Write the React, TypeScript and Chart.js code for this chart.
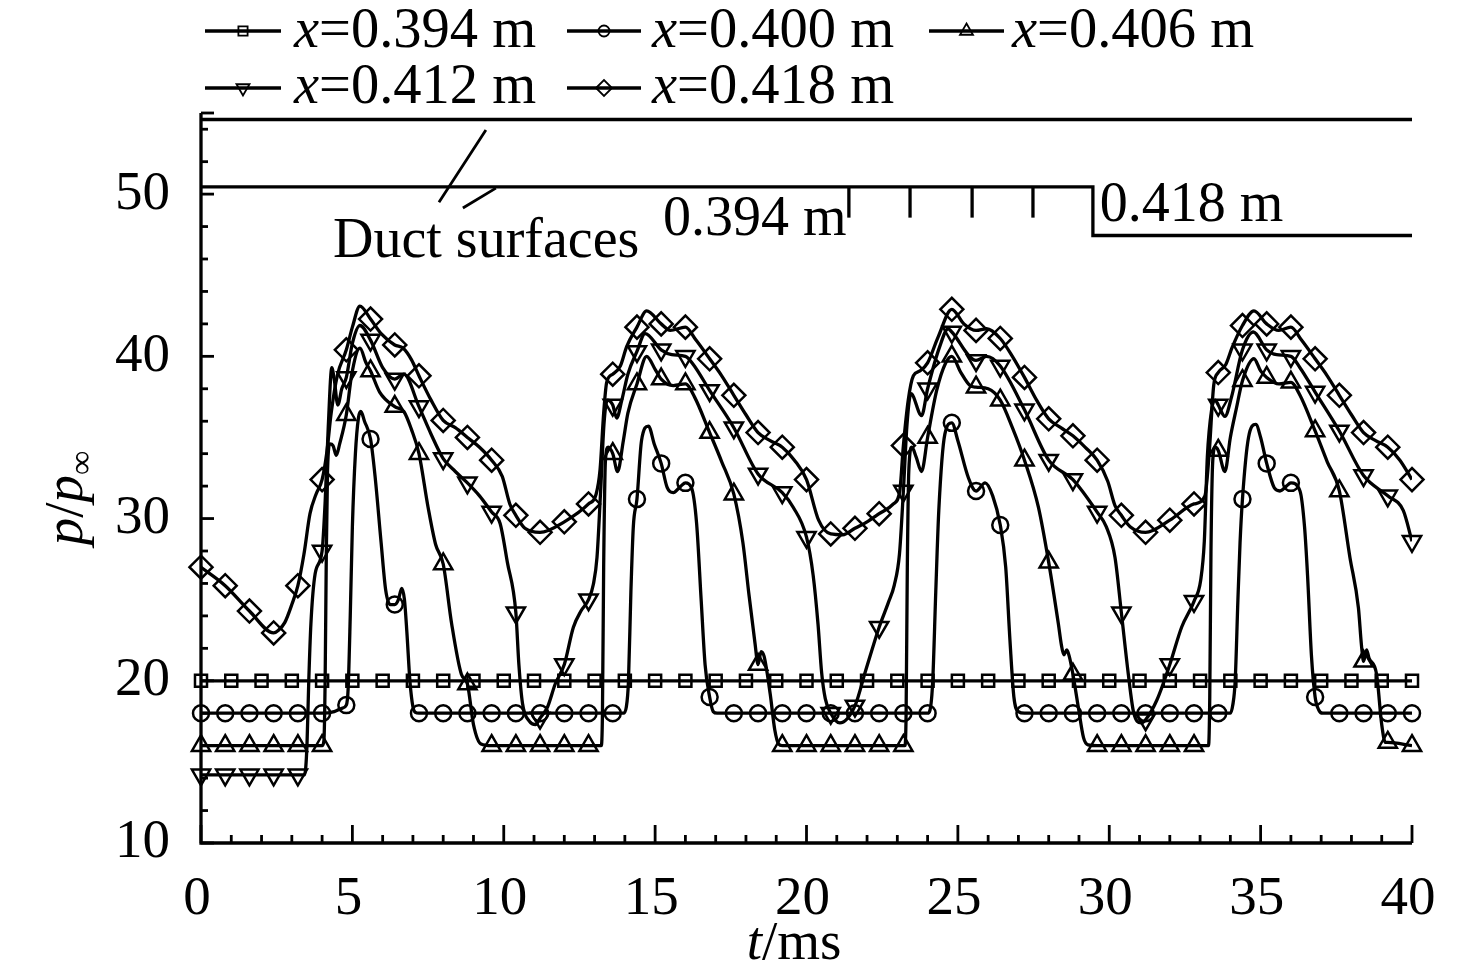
import React, { useEffect, useRef } from 'react';
import { Chart, registerables } from 'chart.js';

Chart.register(...registerables);

const FONT = "'Liberation Serif', 'Times New Roman', serif";

// ---------- axes ----------
const X_TICKS = [0, 5, 10, 15, 20, 25, 30, 35, 40];
const Y_TICKS = [10, 20, 30, 40, 50];

// ---------- marker sampling times (ms) ----------
const MARKER_T = [0, 0.8, 1.6, 2.4, 3.2, 4, 4.8, 5.6, 6.4, 7.2, 8, 8.8, 9.6, 10.4, 11.2, 12, 12.8, 13.6, 14.4, 15.2, 16, 16.8, 17.6, 18.4, 19.2, 20, 20.8, 21.6, 22.4, 23.2, 24, 24.8, 25.6, 26.4, 27.2, 28, 28.8, 29.6, 30.4, 31.2, 32, 32.8, 33.6, 34.4, 35.2, 36, 36.8, 37.6, 38.4, 39.2, 40];
const SQUARE_T = [0, 1, 2, 3, 4, 5, 6, 7, 8, 9, 10, 11, 12, 13, 14, 15, 16, 17, 18, 19, 20, 21, 22, 23, 24, 25, 26, 27, 28, 29, 30, 31, 32, 33, 34, 35, 36, 37, 38, 39, 40];

// ---------- series names ----------
const SERIES_X = ['0.394', '0.400', '0.406', '0.412', '0.418'];

// ---------- x = 0.394 m (squares) ----------
const S394_MARK = [20, 20, 20, 20, 20, 20, 20, 20, 20, 20, 20, 20, 20, 20, 20, 20, 20, 20, 20, 20, 20, 20, 20, 20, 20, 20, 20, 20, 20, 20, 20, 20, 20, 20, 20, 20, 20, 20, 20, 20, 20];
const S394_EXTRA: number[][] = [];

// ---------- x = 0.400 m (circles) ----------
const S400_MARK = [
  18, 18, 18, 18, 18, 18, 18.5, 34.9, 24.7, 18, 18, 18, 18,
  18, 18, 18, 18, 18, 31.2, 33.4, 32.2, 19.0, 18, 18, 18,
  18, 18, 18, 18, 18, 18, 35.9, 31.7, 29.6, 18, 18, 18, 18,
  18, 18, 18, 18, 18, 31.2, 33.4, 32.2, 19.0, 18, 18, 18, 18,
];
const S400_EXTRA = [
  [4.4, 18.1], [4.65, 18.3], [4.86, 19.5], [4.93, 24], [5.0, 29.5], [5.1, 34], [5.2, 36.2], [5.28, 36.6], [5.4, 36.0],
  [5.75, 32.6], [5.95, 28.5], [6.1, 25.6], [6.25, 24.7], [6.52, 25.0], [6.63, 25.7], [6.72, 25.0], [6.8, 23], [6.9, 20], [7.0, 18.4], [7.08, 18.05],
  [13.95, 18], [14.05, 18.4], [14.12, 20], [14.2, 25.5], [14.28, 29.5], [14.55, 34.8], [14.78, 35.7], [14.97, 34.6],
  [15.4, 31.9], [15.6, 31.6], [15.85, 32.0], [16.2, 31.9], [16.37, 29.7], [16.52, 25], [16.65, 21], [16.92, 18.1], [17.05, 18],
  [24.08, 18.2], [24.17, 20], [24.27, 25.5], [24.37, 30.5], [24.57, 35.2], [25.0, 34.8], [25.35, 32.5],
  [25.9, 32.2], [26.15, 31.4], [26.58, 27], [26.72, 22.5], [26.85, 19], [27.0, 18.1],
  [34.0, 18], [34.08, 18.5], [34.16, 20], [34.25, 25], [34.32, 28.5], [34.6, 35.0], [34.84, 35.8], [35.0, 35.0],
  [35.45, 31.9], [35.64, 31.7], [35.85, 32.0], [36.3, 31.7], [36.45, 29.5], [36.55, 26.5], [36.68, 21.5], [36.92, 18.2], [37.05, 18],
];

// ---------- x = 0.406 m (up triangles) ----------
const S406_MARK = [
  16, 16, 16, 16, 16, 16, 36.4, 39.1, 36.9, 34.0, 27.2, 19.8, 16,
  16, 16, 16, 16, 34.0, 38.3, 38.6, 38.3, 35.3, 31.5, 21.0, 16,
  16, 16, 16, 16, 16, 35.0, 40.0, 38.1, 37.3, 33.6, 27.3, 20.4, 16,
  16, 16, 16, 16, 34.2, 38.5, 38.7, 38.4, 35.4, 31.7, 21.2, 16.2, 16,
];
const S406_EXTRA = [
  [4.06, 16.3], [4.1, 20], [4.14, 28], [4.18, 33], [4.26, 34.6], [4.36, 34.5], [4.47, 33.9], [4.58, 34.6],
  [4.98, 38.9], [5.25, 40.5], [5.45, 39.6], [5.9, 37.8], [6.7, 36.6], [6.95, 35.5], [7.5, 30.7], [7.75, 28.4],
  [8.28, 23.5], [8.6, 20.4], [9.0, 17.3], [9.25, 16.1],
  [13.22, 16], [13.26, 18], [13.3, 27], [13.36, 33.6], [13.45, 34.4], [13.76, 32.9], [13.95, 34.8], [14.1, 36.5],
  [14.72, 40.0], [15.0, 39.2], [15.6, 38.2], [16.3, 37.5], [17.2, 33.5], [17.9, 28.5], [18.1, 25.3], [18.3, 22.3],
  [18.5, 21.8], [18.6, 21.5], [18.8, 19.2], [18.95, 17], [19.08, 16.1],
  [23.25, 16], [23.29, 18], [23.33, 27], [23.38, 33], [23.48, 34.4], [23.62, 33.8], [23.8, 32.9], [24.3, 37.9],
  [24.6, 39.6], [25.1, 39.0], [25.4, 38.2], [26.0, 38.0], [26.8, 35.6], [27.66, 30.7], [28.32, 23.5], [28.42, 22.2],
  [28.5, 21.6], [28.6, 21.9], [28.68, 21.5], [28.98, 18.35], [29.15, 16.5], [29.3, 16.05],
  [33.28, 16], [33.32, 19], [33.36, 28], [33.42, 33.6], [33.5, 34.4], [33.82, 32.9], [34.0, 35.0], [34.2, 36.8],
  [34.78, 39.85], [35.0, 39.1], [35.6, 38.3], [36.3, 37.6], [37.2, 33.5], [37.95, 27.6], [38.23, 24.5], [38.33, 22.2],
  [38.5, 21.9], [38.58, 21.4], [38.83, 20.4], [39.0, 17.3], [39.12, 16.2],
];

// ---------- x = 0.412 m (down triangles) ----------
const S412_MARK = [
  14.2, 14.2, 14.2, 14.2, 14.2, 28.0, 38.7, 41.0, 38.6, 36.9, 33.7, 32.2, 30.4,
  24.2, 17.7, 21.0, 25.0, 37.0, 40.3, 40.4, 40.0, 37.9, 35.6, 32.75, 31.6,
  28.85, 18.0, 18.45, 23.3, 31.7, 38.0, 41.5, 39.75, 39.4, 36.7, 33.6, 32.4, 30.4,
  24.2, 17.6, 21.0, 24.9, 37.0, 40.4, 40.4, 40.0, 37.8, 35.4, 32.65, 31.4, 28.6,
];
const S412_EXTRA = [
  [3.42, 14.2], [3.5, 16], [3.56, 20], [3.63, 23.5], [3.77, 26.6], [4.1, 31], [4.2, 35.5], [4.32, 39.3], [4.4, 38.6],
  [4.52, 37.0], [4.65, 38.0], [5.0, 40.8], [5.25, 41.9], [6.0, 39.3], [6.7, 38.9], [7.6, 35.2], [8.4, 32.9], [9.2, 31.4],
  [9.88, 29.7], [10.12, 27.3], [10.5, 21], [10.62, 18.6], [10.85, 17.5], [11.05, 17.3], [11.45, 18.4], [11.7, 19.8],
  [12.3, 23.3], [12.55, 24.3], [12.96, 25.95], [13.08, 27.6], [13.2, 31.7], [13.31, 35.8], [13.42, 37.3], [13.73, 36.2],
  [13.9, 37.3], [14.1, 38.9], [14.67, 41.4], [15.55, 40.1], [16.26, 39.5], [19.56, 30.7],
  [20.22, 26.5], [20.38, 23.5], [20.5, 20.5], [20.62, 18.9], [21.1, 17.4], [21.95, 20.6], [22.7, 24.8], [22.9, 25.9],
  [23.07, 27.8], [23.32, 35.8], [23.45, 37.7], [23.8, 36.35], [24.4, 40.6], [24.68, 41.7], [25.95, 40.0], [29.9, 29.5],
  [30.19, 27.6], [30.63, 20.4], [30.8, 18.1], [31.05, 17.4], [31.57, 18.8], [32.39, 23.3], [33.02, 26.2], [33.14, 28.6],
  [33.24, 33.8], [33.38, 36.7], [33.5, 37.3], [33.82, 36.3], [34.04, 37.5], [34.76, 41.5], [35.53, 40.1], [36.3, 39.3],
  [39.71, 30.5],
];

// ---------- x = 0.418 m (diamonds) ----------
const S418_MARK = [
  27.0, 25.86, 24.3, 22.95, 25.86, 32.4, 40.4, 42.3, 40.7, 38.8, 36.05, 35.0, 33.6,
  30.2, 29.15, 29.8, 30.9, 38.9, 41.8, 42.0, 41.8, 39.85, 37.6, 35.3, 34.4,
  32.4, 29.05, 29.4, 30.3, 34.5, 39.6, 42.9, 41.6, 41.1, 38.7, 36.15, 35.1, 33.6,
  30.2, 29.15, 29.9, 30.9, 39.0, 41.9, 42.0, 41.8, 39.85, 37.6, 35.3, 34.4, 32.4,
];
const S418_EXTRA = [
  [2.55, 23.1], [2.77, 23.6], [3.0, 24.7], [3.4, 27.8], [3.6, 30.3], [3.8, 31.5], [4.15, 34.0], [4.3, 36.5], [4.5, 38.8],
  [5.0, 41.8], [5.25, 43.1], [5.95, 41.4], [6.68, 40.5], [6.95, 39.8], [7.6, 37.3], [8.4, 35.6], [9.2, 34.4],
  [9.95, 32.6], [10.2, 30.9], [10.7, 29.4], [13.05, 31.5], [13.18, 33], [13.3, 36.5], [13.4, 38.4], [13.85, 39.4],
  [14.06, 40.6], [14.72, 42.8], [15.5, 41.6], [16.35, 41.0], [17.2, 38.8], [18.0, 36.4], [18.8, 34.8], [19.6, 33.6],
  [20.4, 29.9], [21.2, 29.0], [22.0, 29.8], [22.87, 30.9], [23.08, 31.7], [23.36, 37.3], [23.53, 38.8], [23.75, 39.1],
  [24.35, 41.2], [25.2, 42.0], [25.95, 41.7], [26.8, 40.0], [27.6, 37.3], [28.4, 35.6], [29.2, 34.4], [29.95, 32.3],
  [30.19, 30.8], [30.69, 29.5], [33.16, 31.4], [33.3, 34], [33.45, 38.2], [33.85, 39.5], [34.05, 40.5], [34.78, 42.8],
  [35.6, 41.6], [36.35, 41.0], [37.2, 38.8], [38.0, 36.4], [38.8, 34.8], [39.6, 33.6],
];

// ---------- duct-surface annotation (data coordinates) ----------
const DUCT_TOP = 54.6;
const DUCT_WALL = 50.45;
const DUCT_WALL_LOW = 47.45;
const DUCT_STEP_T = 29.46;
const DUCT_TICK_T = [21.4, 23.42, 25.47, 27.48];
const DUCT_TICK_END = 48.55;

type Style = 'rect' | 'circle' | 'triangle' | 'triangleDown' | 'rectRot';

const SERIES: { t: number[]; mark: number[]; extra: number[][]; style: Style; r: number }[] = [
  { t: SQUARE_T, mark: S394_MARK, extra: S394_EXTRA, style: 'rect', r: 8.5 },
  { t: MARKER_T, mark: S400_MARK, extra: S400_EXTRA, style: 'circle', r: 8 },
  { t: MARKER_T, mark: S406_MARK, extra: S406_EXTRA, style: 'triangle', r: 10.5 },
  { t: MARKER_T, mark: S412_MARK, extra: S412_EXTRA, style: 'triangleDown', r: 10.5 },
  { t: MARKER_T, mark: S418_MARK, extra: S418_EXTRA, style: 'rectRot', r: 11.5 },
];

function drawMarker(ctx: CanvasRenderingContext2D, style: Style, x: number, y: number, r: number) {
  ctx.beginPath();
  if (style === 'rect') {
    const s = r * Math.SQRT1_2;
    ctx.rect(x - s, y - s, 2 * s, 2 * s);
  } else if (style === 'circle') {
    ctx.arc(x, y, r, 0, Math.PI * 2);
  } else if (style === 'triangle' || style === 'triangleDown') {
    const rot = style === 'triangle' ? 0 : Math.PI;
    for (let i = 0; i < 3; i++) {
      const a = rot + (i * 2 * Math.PI) / 3;
      const px = x + Math.sin(a) * r;
      const py = y - Math.cos(a) * r;
      if (i === 0) ctx.moveTo(px, py);
      else ctx.lineTo(px, py);
    }
    ctx.closePath();
  } else {
    ctx.moveTo(x - r, y);
    ctx.lineTo(x, y - r);
    ctx.lineTo(x + r, y);
    ctx.lineTo(x, y + r);
    ctx.closePath();
  }
  ctx.stroke();
}

const overlayPlugin = {
  id: 'overlay',
  afterDraw(chart: any) {
    const ctx: CanvasRenderingContext2D = chart.ctx;
    const xs = chart.scales.x;
    const ys = chart.scales.y;
    const X = (v: number) => xs.getPixelForValue(v);
    const Y = (v: number) => ys.getPixelForValue(v);
    ctx.save();
    ctx.strokeStyle = '#000';
    ctx.fillStyle = '#000';
    ctx.lineJoin = 'miter';

    // axes
    ctx.lineWidth = 3.3;
    ctx.beginPath();
    ctx.moveTo(X(0), Y(55));
    ctx.lineTo(X(0), Y(10));
    ctx.lineTo(X(40), Y(10));
    ctx.stroke();

    // x ticks (inward)
    ctx.lineWidth = 2.8;
    for (let t = 0; t <= 40; t += 1) {
      const len = t % 5 === 0 ? 18 : 8;
      ctx.beginPath();
      ctx.moveTo(X(t), Y(10));
      ctx.lineTo(X(t), Y(10) - len);
      ctx.stroke();
    }
    // y ticks (inward)
    const yTickVals: number[] = [];
    for (let v = 10; v <= 54; v += 2) yTickVals.push(v);
    yTickVals.push(55);
    for (const v of yTickVals) {
      const len = v % 10 === 0 || v === 55 ? 13 : 7;
      ctx.beginPath();
      ctx.moveTo(X(0), Y(v));
      ctx.lineTo(X(0) + len, Y(v));
      ctx.stroke();
    }

    // duct surfaces
    ctx.lineWidth = 3.3;
    ctx.beginPath();
    ctx.moveTo(X(0), Y(DUCT_TOP));
    ctx.lineTo(X(40), Y(DUCT_TOP));
    ctx.stroke();
    ctx.beginPath();
    ctx.moveTo(X(0), Y(DUCT_WALL));
    ctx.lineTo(X(DUCT_STEP_T), Y(DUCT_WALL));
    ctx.lineTo(X(DUCT_STEP_T), Y(DUCT_WALL_LOW));
    ctx.lineTo(X(40), Y(DUCT_WALL_LOW));
    ctx.stroke();
    for (const t of DUCT_TICK_T) {
      ctx.beginPath();
      ctx.moveTo(X(t), Y(DUCT_WALL));
      ctx.lineTo(X(t), Y(DUCT_TICK_END));
      ctx.stroke();
    }
    ctx.lineWidth = 2.8;
    ctx.beginPath();
    ctx.moveTo(X(7.86), Y(49.5));
    ctx.lineTo(X(9.41), Y(53.95));
    ctx.moveTo(X(8.65), Y(49.14));
    ctx.lineTo(X(9.74), Y(50.37));
    ctx.stroke();

    ctx.font = `56px ${FONT}`;
    ctx.textAlign = 'left';
    ctx.textBaseline = 'alphabetic';
    ctx.fillText('Duct surfaces', X(4.36), Y(46.1));
    ctx.fillText('0.394 m', X(15.26), Y(47.47));
    ctx.fillText('0.418 m', X(29.69), Y(48.33));

    // legend
    const rowsLine = [31, 88];
    const rowsBase = [47, 103];
    const items = [
      { row: 0, x0: 205, x1: 281, tx: 294 },
      { row: 0, x0: 567, x1: 641, tx: 652 },
      { row: 0, x0: 929, x1: 1004, tx: 1012 },
      { row: 1, x0: 205, x1: 281, tx: 294 },
      { row: 1, x0: 567, x1: 641, tx: 652 },
    ];
    const legendR: Record<Style, number> = { rect: 6.5, circle: 5.5, triangle: 7.5, triangleDown: 7.5, rectRot: 8 };
    items.forEach((it, i) => {
      const ly = rowsLine[it.row];
      ctx.lineWidth = 3.3;
      ctx.beginPath();
      ctx.moveTo(it.x0, ly);
      ctx.lineTo(it.x1, ly);
      ctx.stroke();
      ctx.lineWidth = 1.8;
      const st = SERIES[i].style;
      const cx = (it.x0 + it.x1) / 2;
      drawMarker(ctx, st, cx, ly, legendR[st]);
      ctx.font = `italic 56.5px ${FONT}`;
      ctx.fillText('x', it.tx, rowsBase[it.row]);
      const wx = ctx.measureText('x').width;
      ctx.font = `56.5px ${FONT}`;
      ctx.fillText(`=${SERIES_X[i]} m`, it.tx + wx, rowsBase[it.row]);
    });

    // x-axis title  t/ms
    ctx.font = `italic 55px ${FONT}`;
    const wt = ctx.measureText('t').width;
    ctx.font = `55px ${FONT}`;
    const wms = ctx.measureText('/ms').width;
    const tx0 = 794 - (wt + wms) / 2;
    ctx.font = `italic 55px ${FONT}`;
    ctx.fillText('t', tx0, 959);
    ctx.font = `55px ${FONT}`;
    ctx.fillText('/ms', tx0 + wt, 959);

    // y-axis title  p/p∞
    ctx.save();
    ctx.translate(82, 498);
    ctx.rotate(-Math.PI / 2);
    ctx.font = `italic 55px ${FONT}`;
    const wp = ctx.measureText('p').width;
    ctx.font = `55px ${FONT}`;
    const ws = ctx.measureText('/').width;
    ctx.font = `34px ${FONT}`;
    const winf = ctx.measureText('\u221E').width;
    const total = wp * 2 + ws + winf;
    let cx = -total / 2;
    ctx.font = `italic 55px ${FONT}`;
    ctx.fillText('p', cx, 0);
    cx += wp;
    ctx.font = `55px ${FONT}`;
    ctx.fillText('/', cx, 0);
    cx += ws;
    ctx.font = `italic 55px ${FONT}`;
    ctx.fillText('p', cx, 0);
    cx += wp;
    ctx.font = `34px ${FONT}`;
    ctx.fillText('\u221E', cx, 10);
    ctx.restore();

    ctx.restore();
  },
};

export default function App() {
  const ref = useRef<HTMLCanvasElement | null>(null);

  useEffect(() => {
    const canvas = ref.current;
    if (!canvas) return;
    const datasets: any[] = [];
    SERIES.forEach((s) => {
      const pts = [
        ...s.mark.map((v, i) => ({ x: s.t[i], y: v })),
        ...s.extra.map(([x, y]) => ({ x, y })),
      ].sort((a, b) => a.x - b.x);
      datasets.push({
        data: pts,
        borderColor: '#000',
        borderWidth: 3.3,
        pointRadius: 0,
        pointHoverRadius: 0,
        fill: false,
        cubicInterpolationMode: 'monotone',
        order: 2,
      });
    });
    SERIES.forEach((s) => {
      datasets.push({
        data: s.mark.map((v, i) => ({ x: s.t[i], y: v })),
        showLine: false,
        pointStyle: s.style === 'triangleDown' ? 'triangle' : s.style,
        rotation: s.style === 'triangleDown' ? 180 : 0,
        pointRotation: s.style === 'triangleDown' ? 180 : 0,
        pointRadius: s.r,
        pointHoverRadius: s.r,
        pointBorderWidth: 2.5,
        pointBorderColor: '#000',
        pointBackgroundColor: 'rgba(0,0,0,0)',
        borderColor: '#000',
        clip: false,
        order: 1,
      });
    });

    const chart = new Chart(canvas, {
      type: 'line',
      data: { datasets },
      options: {
        responsive: false,
        animation: false,
        events: [],
        layout: { padding: { left: 0, top: 113, right: 64, bottom: 0 } },
        plugins: {
          legend: { display: false },
          tooltip: { enabled: false },
          title: { display: false },
        },
        scales: {
          x: {
            type: 'linear',
            min: 0,
            max: 40,
            position: 'bottom',
            afterBuildTicks: (s: any) => {
              s.ticks = X_TICKS.map((v) => ({ value: v }));
            },
            afterFit: (s: any) => {
              s.height = 128;
            },
            grid: { display: false, drawTicks: false },
            border: { display: false },
            ticks: {
              color: '#000',
              font: { family: FONT, size: 55 },
              padding: 24,
              labelOffset: -4,
              maxRotation: 0,
              autoSkip: false,
            },
          },
          y: {
            type: 'linear',
            min: 10,
            max: 55,
            afterBuildTicks: (s: any) => {
              s.ticks = Y_TICKS.map((v) => ({ value: v }));
            },
            afterFit: (s: any) => {
              s.width = 201;
            },
            grid: { display: false, drawTicks: false },
            border: { display: false },
            ticks: {
              color: '#000',
              font: { family: FONT, size: 55 },
              padding: 31,
              autoSkip: false,
            },
          },
        },
      } as any,
      plugins: [overlayPlugin],
    });
    return () => chart.destroy();
  }, []);

  return (
    <div style={{ position: 'absolute', left: 0, top: 0, width: 1476, height: 971, background: '#fff' }}>
      <canvas ref={ref} width={1476} height={971} style={{ display: 'block' }} />
    </div>
  );
}
